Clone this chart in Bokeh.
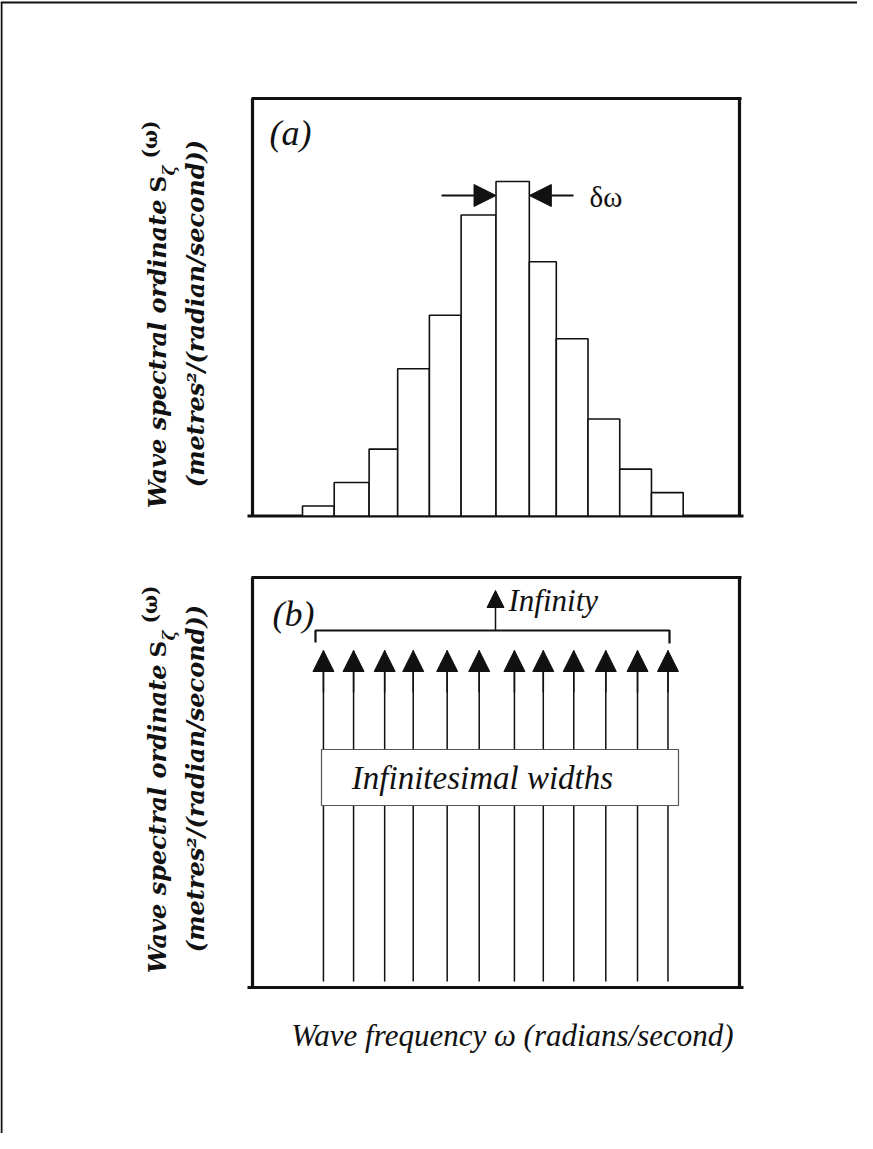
import numpy as np
from bokeh.plotting import figure
from bokeh.models import Range1d, Arrow, NormalHead, ColumnDataSource
from bokeh.core.properties import value
from bokeh.embed import file_html
from bokeh.resources import INLINE

# ---------------- data ----------------
# panel (a): discretised wave spectrum, bin edges (rad/s) and spectral ordinates (relative)
omega_edges = [0.30, 0.40, 0.51, 0.60, 0.70, 0.80, 0.91, 1.015, 1.10, 1.20, 1.30, 1.40, 1.50]
spectral_ordinate = [0.03, 0.10, 0.20, 0.44, 0.60, 0.90, 1.00, 0.76, 0.53, 0.29, 0.14, 0.07]
# panel (b): frequencies of the infinitesimally narrow components (rad/s)
omega_lines = [0.366, 0.461, 0.559, 0.649, 0.756, 0.857, 0.968, 1.059, 1.155, 1.256, 1.356, 1.452]

panel_labels = ["(a)", "(b)"]
ylabel_main = "Wave spectral ordinate"
ylabel_S = "S"
ylabel_sub = "\u03b6"
ylabel_sup = "(\u03c9)"
ylabel_units = "(metres\u00b2/(radian/second))"
xlabel = "Wave frequency \u03c9 (radians/second)"
delta_label = "\u03b4\u03c9"
infinity_label = "Infinity"
box_label = "Infinitesimal widths"

# ---------------- layout (page pixels) ----------------
W, H = 857, 1133
PX0, PY0 = 8, 8                      # page margin
X_LO, X_HI = PX0, PX0 + W
Y_TOP, Y_BOT = PY0, PY0 + H

# frequency axis calibration (shared by both panels)
W_CAL = (0.30, 310.0, 1.50, 690.7)   # omega -> page x
def w_at(px):
    w0, p0, w1, p1 = W_CAL
    return w0 + (px - p0) * (w1 - w0) / (p1 - p0)

# panel (a) vertical calibration: S=0 at 523.5 px, S=1 at 189 px
A_S0, A_S1 = 523.5, 189.0
def sa_at(py):
    return (A_S0 - py) / (A_S0 - A_S1)

# panel (b) vertical: 0 at frame bottom, 1 at frame top
B_TOP, B_BOT = 585.0, 995.0
def sb_at(py):
    return (B_BOT - py) / (B_BOT - B_TOP)

p = figure(width=W, height=H, output_backend="svg", toolbar_location=None,
           x_range=Range1d(X_LO, X_HI), y_range=Range1d(Y_BOT, Y_TOP),
           min_border=0, outline_line_color=None)
p.xaxis.visible = False
p.yaxis.visible = False
p.grid.visible = False
p.background_fill_color = "white"
p.border_fill_color = "white"

p.extra_x_ranges = {"w": Range1d(w_at(X_LO), w_at(X_HI))}
p.extra_y_ranges = {"sa": Range1d(sa_at(Y_BOT), sa_at(Y_TOP)),
                    "sb": Range1d(sb_at(Y_BOT), sb_at(Y_TOP))}

INK = "#111111"

# page border (scan edge)
p.segment(x0=[X_LO, 9], y0=[10, 10], x1=[X_HI, 9], y1=[10, Y_BOT], line_color=INK, line_width=2)

# ---------------- panel frames ----------------
def frame(top, bot):
    p.segment(x0=[259, 260, 747, 255], y0=[top, top, top, bot],
              x1=[749, 260, 747, 751], y1=[top, bot, bot, bot],
              line_color=INK, line_width=3.2)
frame(106, 523.5)
frame(B_TOP, B_BOT)

head = dict(fill_color=INK, line_color=INK, line_width=1)

# ---------------- panel (a) histogram ----------------
src_a = ColumnDataSource(dict(left=omega_edges[:-1], right=omega_edges[1:],
                              top=spectral_ordinate, bottom=[0] * len(spectral_ordinate)))
p.quad(left="left", right="right", top="top", bottom="bottom", source=src_a,
       x_range_name="w", y_range_name="sa", fill_color="white",
       line_color=INK, line_width=1.6)

# delta-omega arrows pointing at the peak bin
peak = int(np.argmax(spectral_ordinate))
arrow_s = sa_at(203)
p.add_layout(Arrow(x_start=w_at(449), y_start=arrow_s, x_end=omega_edges[peak], y_end=arrow_s,
                   x_range_name="w", y_range_name="sa", line_color=INK, line_width=2,
                   end=NormalHead(size=22, **head)))
p.add_layout(Arrow(x_start=w_at(581), y_start=arrow_s, x_end=omega_edges[peak + 1], y_end=arrow_s,
                   x_range_name="w", y_range_name="sa", line_color=INK, line_width=2,
                   end=NormalHead(size=22, **head)))
p.text(x=[597], y=[204], text=[delta_label], text_font=value("Liberation Serif"),
       text_font_size="29px", text_align="left", text_baseline="middle", text_color=INK)

# ---------------- panel (b) spectral lines ----------------
tip = sb_at(658)
base = sb_at(989)
src_b = ColumnDataSource(dict(x0=omega_lines, x1=omega_lines,
                              y0=[base] * len(omega_lines), y1=[tip] * len(omega_lines)))
p.segment(x0="x0", y0="y0", x1="x1", y1="y1", source=src_b, x_range_name="w",
          y_range_name="sb", line_color=INK, line_width=1.5)
# arrow heads on top of every line (drawn as arrow annotations)
src_h = ColumnDataSource(dict(x=omega_lines, y0=[sb_at(700)] * len(omega_lines),
                              y1=[tip] * len(omega_lines)))
p.add_layout(Arrow(x_start="x", y_start="y0", x_end="x", y_end="y1", source=src_h,
                   x_range_name="w", y_range_name="sb", line_color=INK, line_width=1.5,
                   end=NormalHead(size=21, **head)))

# bracket spanning all lines + "Infinity" arrow
p.line(x=[323, 323, 677, 677], y=[650, 638, 638, 651], line_color=INK, line_width=2.2)
p.add_layout(Arrow(x_start=503, y_start=638, x_end=503, y_end=598, line_color=INK,
                   line_width=1.5, end=NormalHead(size=17, **head)))
p.text(x=[516], y=[608], text=[infinity_label], text_font=value("Liberation Serif"),
       text_font_style="italic", text_font_size="31px", text_align="left",
       text_baseline="middle", text_color=INK)

# "Infinitesimal widths" box over the lines
p.quad(left=[329], right=[686], top=[757], bottom=[813], fill_color="white",
       line_color="#555555", line_width=1.2, level="overlay")
p.text(x=[490], y=[785], text=[box_label], text_font=value("Liberation Serif"),
       text_font_style="italic", text_font_size="33px", text_align="center",
       text_baseline="middle", text_color=INK, level="overlay")

# ---------------- panel letters ----------------
p.text(x=[298, 301], y=[140, 621], text=panel_labels, text_font=value("Liberation Serif"),
       text_font_style="italic", text_font_size="36px", text_align="center",
       text_baseline="middle", text_color=INK)

# ---------------- y labels ----------------
def ylabel(dy):
    rot = np.pi / 2
    common = dict(angle=rot, text_font=value("DejaVu Serif"), text_baseline="middle",
                  text_color=INK)
    p.text(x=[165], y=[207 + dy], text=[ylabel_main], text_font_style="bold italic",
           text_font_size="24px", text_align="right", **common)
    p.text(x=[165], y=[200 + dy], text=[ylabel_S], text_font_style="bold",
           text_font_size="23px", text_align="left", **common)
    p.text(x=[176], y=[183 + dy], text=[ylabel_sub], text_font_style="bold italic",
           text_font_size="17px", text_align="left", **common)
    p.text(x=[157], y=[166 + dy], text=[ylabel_sup], text_font_style="bold",
           text_font_size="20px", text_align="left", **common)
    p.text(x=[203], y=[321 + dy], text=[ylabel_units], text_font_style="bold italic",
           text_font_size="24px", text_align="center", **common)

ylabel(0)
ylabel(465)

# ---------------- x label ----------------
p.text(x=[520], y=[1043], text=[xlabel], text_font=value("Liberation Serif"),
       text_font_style="italic", text_font_size="31px", text_align="center",
       text_baseline="middle", text_color=INK)

open("out.html", "w").write(file_html(p, INLINE))
